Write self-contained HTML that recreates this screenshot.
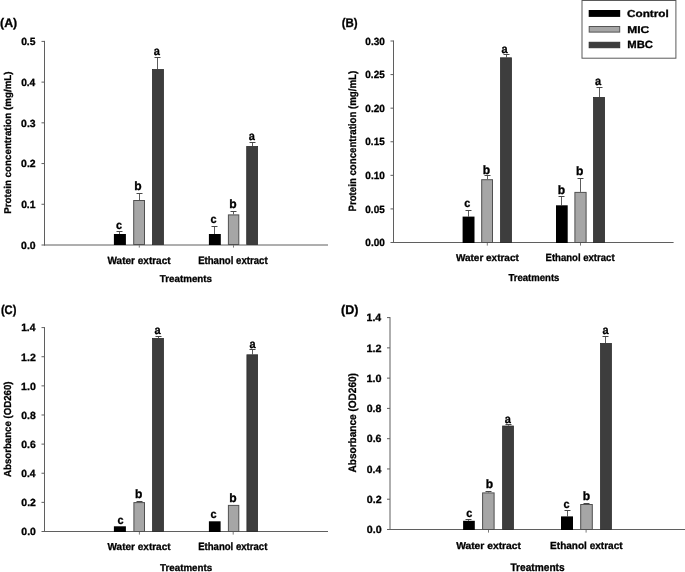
<!DOCTYPE html>
<html><head><meta charset="utf-8"><style>
html,body{margin:0;padding:0;background:#fff;}
body{width:685px;height:572px;overflow:hidden;}
svg{display:block;filter:grayscale(1);}
text{font-family:"Liberation Sans",sans-serif;font-weight:bold;stroke:#000;stroke-width:0.3px;text-rendering:geometricPrecision;}
</style></head><body>
<svg width="685" height="572" viewBox="0 0 685 572">
<rect x="0" y="0" width="685" height="572" fill="#fff"/>
<line x1="44.50" y1="40.90" x2="44.50" y2="245.50" stroke="#5f5f5f" stroke-width="1"/>
<line x1="44.00" y1="245.00" x2="328.00" y2="245.00" stroke="#5f5f5f" stroke-width="1"/>
<line x1="41.50" y1="245.00" x2="44.50" y2="245.00" stroke="#5f5f5f" stroke-width="1"/>
<text x="21.13" y="248.70" font-size="10.42" textLength="14.54" lengthAdjust="spacingAndGlyphs" fill="#000">0.0</text>
<line x1="41.50" y1="204.28" x2="44.50" y2="204.28" stroke="#5f5f5f" stroke-width="1"/>
<text x="21.14" y="207.98" font-size="10.42" textLength="14.37" lengthAdjust="spacingAndGlyphs" fill="#000">0.1</text>
<line x1="41.50" y1="163.56" x2="44.50" y2="163.56" stroke="#5f5f5f" stroke-width="1"/>
<text x="21.13" y="167.26" font-size="10.42" textLength="14.54" lengthAdjust="spacingAndGlyphs" fill="#000">0.2</text>
<line x1="41.50" y1="122.84" x2="44.50" y2="122.84" stroke="#5f5f5f" stroke-width="1"/>
<text x="21.13" y="126.54" font-size="10.42" textLength="14.48" lengthAdjust="spacingAndGlyphs" fill="#000">0.3</text>
<line x1="41.50" y1="82.12" x2="44.50" y2="82.12" stroke="#5f5f5f" stroke-width="1"/>
<text x="21.14" y="85.82" font-size="10.42" textLength="14.16" lengthAdjust="spacingAndGlyphs" fill="#000">0.4</text>
<line x1="41.50" y1="41.40" x2="44.50" y2="41.40" stroke="#5f5f5f" stroke-width="1"/>
<text x="21.14" y="45.10" font-size="10.42" textLength="14.37" lengthAdjust="spacingAndGlyphs" fill="#000">0.5</text>
<line x1="139.30" y1="245.00" x2="139.30" y2="247.60" stroke="#7a7a7a" stroke-width="1"/>
<line x1="233.50" y1="245.00" x2="233.50" y2="247.60" stroke="#7a7a7a" stroke-width="1"/>
<line x1="119.50" y1="231.50" x2="119.50" y2="234.00" stroke="#5c5c5c" stroke-width="1"/>
<line x1="116.50" y1="231.50" x2="122.50" y2="231.50" stroke="#484848" stroke-width="1"/>
<rect x="113.90" y="234.00" width="12.00" height="11.00" fill="#000000"/>
<text x="115.91" y="229.33" font-size="11.82" textLength="6.08" lengthAdjust="spacingAndGlyphs" fill="#000">c</text>
<line x1="139.50" y1="193.50" x2="139.50" y2="200.00" stroke="#5c5c5c" stroke-width="1"/>
<line x1="136.50" y1="193.50" x2="142.50" y2="193.50" stroke="#484848" stroke-width="1"/>
<rect x="133.70" y="200.50" width="10.80" height="44.00" fill="#a6a6a6" stroke="#505050" stroke-width="1"/>
<text x="134.16" y="190.43" font-size="12.11" textLength="7.38" lengthAdjust="spacingAndGlyphs" fill="#000">b</text>
<line x1="157.50" y1="57.50" x2="157.50" y2="69.10" stroke="#5c5c5c" stroke-width="1"/>
<line x1="154.50" y1="57.50" x2="160.50" y2="57.50" stroke="#484848" stroke-width="1"/>
<rect x="152.40" y="69.50" width="11.10" height="175.10" fill="#3d3d3d" stroke="#2e2e2e" stroke-width="0.8"/>
<text x="153.82" y="54.53" font-size="12.00" textLength="6.13" lengthAdjust="spacingAndGlyphs" fill="#000">a</text>
<line x1="214.50" y1="226.50" x2="214.50" y2="234.00" stroke="#5c5c5c" stroke-width="1"/>
<line x1="211.50" y1="226.50" x2="217.50" y2="226.50" stroke="#484848" stroke-width="1"/>
<rect x="208.90" y="234.00" width="11.90" height="11.00" fill="#000000"/>
<text x="210.51" y="223.23" font-size="11.82" textLength="6.08" lengthAdjust="spacingAndGlyphs" fill="#000">c</text>
<line x1="233.50" y1="211.50" x2="233.50" y2="214.40" stroke="#5c5c5c" stroke-width="1"/>
<line x1="230.50" y1="211.50" x2="236.50" y2="211.50" stroke="#484848" stroke-width="1"/>
<rect x="228.40" y="214.90" width="10.40" height="29.60" fill="#a6a6a6" stroke="#505050" stroke-width="1"/>
<text x="229.21" y="207.83" font-size="12.11" textLength="7.38" lengthAdjust="spacingAndGlyphs" fill="#000">b</text>
<line x1="252.50" y1="142.50" x2="252.50" y2="146.00" stroke="#5c5c5c" stroke-width="1"/>
<line x1="249.50" y1="142.50" x2="255.50" y2="142.50" stroke="#484848" stroke-width="1"/>
<rect x="246.70" y="146.40" width="10.90" height="98.20" fill="#3d3d3d" stroke="#2e2e2e" stroke-width="0.8"/>
<text x="248.82" y="140.33" font-size="12.00" textLength="6.13" lengthAdjust="spacingAndGlyphs" fill="#000">a</text>
<text x="0.03" y="27.04" font-size="12.41" textLength="17.22" lengthAdjust="spacingAndGlyphs" fill="#000">(A)</text>
<text transform="translate(10.95,213.79) rotate(-90)" x="0" y="0" font-size="9.86" textLength="142.39" lengthAdjust="spacingAndGlyphs" fill="#000">Protein concentration (mg/mL)</text>
<text x="107.55" y="263.75" font-size="10.43" textLength="63.04" lengthAdjust="spacingAndGlyphs" fill="#000">Water extract</text>
<text x="198.13" y="263.74" font-size="10.86" textLength="69.46" lengthAdjust="spacingAndGlyphs" fill="#000">Ethanol extract</text>
<text x="159.85" y="281.95" font-size="9.86" textLength="52.20" lengthAdjust="spacingAndGlyphs" fill="#000">Treatments</text>
<line x1="393.50" y1="40.50" x2="393.50" y2="243.00" stroke="#5f5f5f" stroke-width="1"/>
<line x1="393.00" y1="242.50" x2="673.60" y2="242.50" stroke="#5f5f5f" stroke-width="1"/>
<line x1="390.50" y1="242.50" x2="393.50" y2="242.50" stroke="#5f5f5f" stroke-width="1"/>
<text x="365.35" y="246.20" font-size="10.42" textLength="19.52" lengthAdjust="spacingAndGlyphs" fill="#000">0.00</text>
<line x1="390.50" y1="208.92" x2="393.50" y2="208.92" stroke="#5f5f5f" stroke-width="1"/>
<text x="365.35" y="212.61" font-size="10.42" textLength="19.36" lengthAdjust="spacingAndGlyphs" fill="#000">0.05</text>
<line x1="390.50" y1="175.33" x2="393.50" y2="175.33" stroke="#5f5f5f" stroke-width="1"/>
<text x="365.35" y="179.03" font-size="10.42" textLength="19.52" lengthAdjust="spacingAndGlyphs" fill="#000">0.10</text>
<line x1="390.50" y1="141.75" x2="393.50" y2="141.75" stroke="#5f5f5f" stroke-width="1"/>
<text x="365.35" y="145.45" font-size="10.42" textLength="19.36" lengthAdjust="spacingAndGlyphs" fill="#000">0.15</text>
<line x1="390.50" y1="108.17" x2="393.50" y2="108.17" stroke="#5f5f5f" stroke-width="1"/>
<text x="365.35" y="111.86" font-size="10.42" textLength="19.52" lengthAdjust="spacingAndGlyphs" fill="#000">0.20</text>
<line x1="390.50" y1="74.58" x2="393.50" y2="74.58" stroke="#5f5f5f" stroke-width="1"/>
<text x="365.35" y="78.28" font-size="10.42" textLength="19.36" lengthAdjust="spacingAndGlyphs" fill="#000">0.25</text>
<line x1="390.50" y1="41.00" x2="393.50" y2="41.00" stroke="#5f5f5f" stroke-width="1"/>
<text x="365.35" y="44.70" font-size="10.42" textLength="19.52" lengthAdjust="spacingAndGlyphs" fill="#000">0.30</text>
<line x1="487.30" y1="243.00" x2="487.30" y2="245.60" stroke="#7a7a7a" stroke-width="1"/>
<line x1="580.50" y1="243.00" x2="580.50" y2="245.60" stroke="#7a7a7a" stroke-width="1"/>
<line x1="468.50" y1="210.50" x2="468.50" y2="216.60" stroke="#5c5c5c" stroke-width="1"/>
<line x1="465.50" y1="210.50" x2="471.50" y2="210.50" stroke="#484848" stroke-width="1"/>
<rect x="462.60" y="216.60" width="11.90" height="26.40" fill="#000000"/>
<text x="464.16" y="206.73" font-size="11.82" textLength="6.08" lengthAdjust="spacingAndGlyphs" fill="#000">c</text>
<line x1="487.50" y1="175.50" x2="487.50" y2="179.20" stroke="#5c5c5c" stroke-width="1"/>
<line x1="484.50" y1="175.50" x2="490.50" y2="175.50" stroke="#484848" stroke-width="1"/>
<rect x="481.70" y="179.70" width="10.80" height="62.80" fill="#a6a6a6" stroke="#505050" stroke-width="1"/>
<text x="482.71" y="173.93" font-size="12.11" textLength="7.38" lengthAdjust="spacingAndGlyphs" fill="#000">b</text>
<line x1="506.50" y1="54.50" x2="506.50" y2="57.40" stroke="#5c5c5c" stroke-width="1"/>
<line x1="503.50" y1="54.50" x2="509.50" y2="54.50" stroke="#484848" stroke-width="1"/>
<rect x="500.50" y="57.80" width="11.00" height="184.80" fill="#3d3d3d" stroke="#2e2e2e" stroke-width="0.8"/>
<text x="501.42" y="52.53" font-size="12.00" textLength="6.13" lengthAdjust="spacingAndGlyphs" fill="#000">a</text>
<line x1="561.50" y1="196.50" x2="561.50" y2="205.30" stroke="#5c5c5c" stroke-width="1"/>
<line x1="558.50" y1="196.50" x2="564.50" y2="196.50" stroke="#484848" stroke-width="1"/>
<rect x="556.00" y="205.30" width="11.70" height="37.70" fill="#000000"/>
<text x="557.71" y="194.13" font-size="12.11" textLength="7.38" lengthAdjust="spacingAndGlyphs" fill="#000">b</text>
<line x1="580.50" y1="178.50" x2="580.50" y2="191.90" stroke="#5c5c5c" stroke-width="1"/>
<line x1="577.50" y1="178.50" x2="583.50" y2="178.50" stroke="#484848" stroke-width="1"/>
<rect x="574.90" y="192.40" width="11.20" height="50.10" fill="#a6a6a6" stroke="#505050" stroke-width="1"/>
<text x="576.06" y="175.03" font-size="12.11" textLength="7.38" lengthAdjust="spacingAndGlyphs" fill="#000">b</text>
<line x1="599.50" y1="87.50" x2="599.50" y2="97.00" stroke="#5c5c5c" stroke-width="1"/>
<line x1="596.50" y1="87.50" x2="602.50" y2="87.50" stroke="#484848" stroke-width="1"/>
<rect x="593.50" y="97.40" width="11.10" height="145.20" fill="#3d3d3d" stroke="#2e2e2e" stroke-width="0.8"/>
<text x="594.92" y="84.73" font-size="12.00" textLength="6.13" lengthAdjust="spacingAndGlyphs" fill="#000">a</text>
<text x="341.67" y="27.12" font-size="12.51" textLength="16.04" lengthAdjust="spacingAndGlyphs" fill="#000">(B)</text>
<text transform="translate(355.75,211.48) rotate(-90)" x="0" y="0" font-size="10.58" textLength="140.58" lengthAdjust="spacingAndGlyphs" fill="#000">Protein concentration (mg/mL)</text>
<text x="455.95" y="260.75" font-size="10.00" textLength="62.84" lengthAdjust="spacingAndGlyphs" fill="#000">Water extract</text>
<text x="545.53" y="260.95" font-size="10.43" textLength="69.06" lengthAdjust="spacingAndGlyphs" fill="#000">Ethanol extract</text>
<text x="508.45" y="281.15" font-size="10.14" textLength="50.98" lengthAdjust="spacingAndGlyphs" fill="#000">Treatments</text>
<line x1="44.50" y1="327.10" x2="44.50" y2="532.00" stroke="#5f5f5f" stroke-width="1"/>
<line x1="44.00" y1="531.50" x2="328.00" y2="531.50" stroke="#5f5f5f" stroke-width="1"/>
<line x1="41.50" y1="531.50" x2="44.50" y2="531.50" stroke="#5f5f5f" stroke-width="1"/>
<text x="21.33" y="535.20" font-size="10.42" textLength="14.54" lengthAdjust="spacingAndGlyphs" fill="#000">0.0</text>
<line x1="41.50" y1="502.37" x2="44.50" y2="502.37" stroke="#5f5f5f" stroke-width="1"/>
<text x="21.33" y="506.07" font-size="10.42" textLength="14.54" lengthAdjust="spacingAndGlyphs" fill="#000">0.2</text>
<line x1="41.50" y1="473.24" x2="44.50" y2="473.24" stroke="#5f5f5f" stroke-width="1"/>
<text x="21.34" y="476.94" font-size="10.42" textLength="14.16" lengthAdjust="spacingAndGlyphs" fill="#000">0.4</text>
<line x1="41.50" y1="444.11" x2="44.50" y2="444.11" stroke="#5f5f5f" stroke-width="1"/>
<text x="21.33" y="447.81" font-size="10.42" textLength="14.48" lengthAdjust="spacingAndGlyphs" fill="#000">0.6</text>
<line x1="41.50" y1="414.99" x2="44.50" y2="414.99" stroke="#5f5f5f" stroke-width="1"/>
<text x="21.33" y="418.68" font-size="10.42" textLength="14.43" lengthAdjust="spacingAndGlyphs" fill="#000">0.8</text>
<line x1="41.50" y1="385.86" x2="44.50" y2="385.86" stroke="#5f5f5f" stroke-width="1"/>
<text x="21.11" y="389.55" font-size="10.42" textLength="14.76" lengthAdjust="spacingAndGlyphs" fill="#000">1.0</text>
<line x1="41.50" y1="356.73" x2="44.50" y2="356.73" stroke="#5f5f5f" stroke-width="1"/>
<text x="21.11" y="360.53" font-size="10.57" textLength="14.76" lengthAdjust="spacingAndGlyphs" fill="#000">1.2</text>
<line x1="41.50" y1="327.60" x2="44.50" y2="327.60" stroke="#5f5f5f" stroke-width="1"/>
<text x="21.13" y="331.40" font-size="10.72" textLength="14.37" lengthAdjust="spacingAndGlyphs" fill="#000">1.4</text>
<line x1="139.40" y1="532.00" x2="139.40" y2="534.60" stroke="#7a7a7a" stroke-width="1"/>
<line x1="233.20" y1="532.00" x2="233.20" y2="534.60" stroke="#7a7a7a" stroke-width="1"/>
<rect x="113.90" y="526.30" width="12.00" height="5.70" fill="#000000"/>
<text x="117.41" y="524.13" font-size="11.82" textLength="6.08" lengthAdjust="spacingAndGlyphs" fill="#000">c</text>
<line x1="139.50" y1="501.50" x2="139.50" y2="502.10" stroke="#5c5c5c" stroke-width="1"/>
<line x1="136.50" y1="501.50" x2="142.50" y2="501.50" stroke="#484848" stroke-width="1"/>
<rect x="133.90" y="502.60" width="10.60" height="28.90" fill="#a6a6a6" stroke="#505050" stroke-width="1"/>
<text x="134.91" y="497.73" font-size="12.11" textLength="7.38" lengthAdjust="spacingAndGlyphs" fill="#000">b</text>
<line x1="158.50" y1="336.50" x2="158.50" y2="338.00" stroke="#5c5c5c" stroke-width="1"/>
<line x1="155.50" y1="336.50" x2="161.50" y2="336.50" stroke="#484848" stroke-width="1"/>
<rect x="152.50" y="338.40" width="11.00" height="193.20" fill="#3d3d3d" stroke="#2e2e2e" stroke-width="0.8"/>
<text x="154.62" y="333.63" font-size="12.00" textLength="6.13" lengthAdjust="spacingAndGlyphs" fill="#000">a</text>
<rect x="208.90" y="521.30" width="11.70" height="10.70" fill="#000000"/>
<text x="210.46" y="518.43" font-size="11.82" textLength="6.08" lengthAdjust="spacingAndGlyphs" fill="#000">c</text>
<rect x="228.40" y="505.40" width="10.40" height="26.10" fill="#a6a6a6" stroke="#505050" stroke-width="1"/>
<text x="229.21" y="501.63" font-size="12.11" textLength="7.38" lengthAdjust="spacingAndGlyphs" fill="#000">b</text>
<line x1="252.50" y1="349.50" x2="252.50" y2="354.40" stroke="#5c5c5c" stroke-width="1"/>
<line x1="249.50" y1="349.50" x2="255.50" y2="349.50" stroke="#484848" stroke-width="1"/>
<rect x="246.90" y="354.80" width="10.70" height="176.80" fill="#3d3d3d" stroke="#2e2e2e" stroke-width="0.8"/>
<text x="249.42" y="348.13" font-size="12.00" textLength="6.13" lengthAdjust="spacingAndGlyphs" fill="#000">a</text>
<text x="0.89" y="314.10" font-size="12.62" textLength="15.50" lengthAdjust="spacingAndGlyphs" fill="#000">(C)</text>
<text transform="translate(11.15,476.99) rotate(-90)" x="0" y="0" font-size="10.14" textLength="95.49" lengthAdjust="spacingAndGlyphs" fill="#000">Absorbance (OD260)</text>
<text x="107.55" y="550.15" font-size="10.14" textLength="63.04" lengthAdjust="spacingAndGlyphs" fill="#000">Water extract</text>
<text x="198.13" y="550.14" font-size="10.57" textLength="69.26" lengthAdjust="spacingAndGlyphs" fill="#000">Ethanol extract</text>
<text x="160.05" y="570.95" font-size="9.86" textLength="52.20" lengthAdjust="spacingAndGlyphs" fill="#000">Treatments</text>
<line x1="390.00" y1="317.10" x2="390.00" y2="530.00" stroke="#5f5f5f" stroke-width="1"/>
<line x1="389.50" y1="529.50" x2="685.00" y2="529.50" stroke="#5f5f5f" stroke-width="1"/>
<line x1="387.00" y1="529.50" x2="390.00" y2="529.50" stroke="#5f5f5f" stroke-width="1"/>
<text x="366.72" y="533.20" font-size="10.42" textLength="14.86" lengthAdjust="spacingAndGlyphs" fill="#000">0.0</text>
<line x1="387.00" y1="499.23" x2="390.00" y2="499.23" stroke="#5f5f5f" stroke-width="1"/>
<text x="366.72" y="502.92" font-size="10.42" textLength="14.86" lengthAdjust="spacingAndGlyphs" fill="#000">0.2</text>
<line x1="387.00" y1="468.96" x2="390.00" y2="468.96" stroke="#5f5f5f" stroke-width="1"/>
<text x="366.73" y="472.65" font-size="10.42" textLength="14.47" lengthAdjust="spacingAndGlyphs" fill="#000">0.4</text>
<line x1="387.00" y1="438.69" x2="390.00" y2="438.69" stroke="#5f5f5f" stroke-width="1"/>
<text x="366.72" y="442.38" font-size="10.42" textLength="14.80" lengthAdjust="spacingAndGlyphs" fill="#000">0.6</text>
<line x1="387.00" y1="408.41" x2="390.00" y2="408.41" stroke="#5f5f5f" stroke-width="1"/>
<text x="366.73" y="412.11" font-size="10.42" textLength="14.74" lengthAdjust="spacingAndGlyphs" fill="#000">0.8</text>
<line x1="387.00" y1="378.14" x2="390.00" y2="378.14" stroke="#5f5f5f" stroke-width="1"/>
<text x="366.50" y="381.84" font-size="10.42" textLength="15.09" lengthAdjust="spacingAndGlyphs" fill="#000">1.0</text>
<line x1="387.00" y1="347.87" x2="390.00" y2="347.87" stroke="#5f5f5f" stroke-width="1"/>
<text x="366.50" y="351.67" font-size="10.57" textLength="15.09" lengthAdjust="spacingAndGlyphs" fill="#000">1.2</text>
<line x1="387.00" y1="317.60" x2="390.00" y2="317.60" stroke="#5f5f5f" stroke-width="1"/>
<text x="366.52" y="321.40" font-size="10.72" textLength="14.69" lengthAdjust="spacingAndGlyphs" fill="#000">1.4</text>
<line x1="488.50" y1="530.00" x2="488.50" y2="532.60" stroke="#7a7a7a" stroke-width="1"/>
<line x1="586.10" y1="530.00" x2="586.10" y2="532.60" stroke="#7a7a7a" stroke-width="1"/>
<line x1="468.50" y1="519.50" x2="468.50" y2="520.80" stroke="#5c5c5c" stroke-width="1"/>
<line x1="465.50" y1="519.50" x2="471.50" y2="519.50" stroke="#484848" stroke-width="1"/>
<rect x="463.10" y="520.80" width="11.70" height="9.20" fill="#000000"/>
<text x="466.36" y="516.53" font-size="11.82" textLength="6.08" lengthAdjust="spacingAndGlyphs" fill="#000">c</text>
<line x1="488.50" y1="491.50" x2="488.50" y2="492.40" stroke="#5c5c5c" stroke-width="1"/>
<line x1="485.50" y1="491.50" x2="491.50" y2="491.50" stroke="#484848" stroke-width="1"/>
<rect x="482.60" y="492.90" width="11.50" height="36.60" fill="#a6a6a6" stroke="#505050" stroke-width="1"/>
<text x="485.76" y="488.43" font-size="12.11" textLength="7.38" lengthAdjust="spacingAndGlyphs" fill="#000">b</text>
<line x1="508.50" y1="424.50" x2="508.50" y2="425.60" stroke="#5c5c5c" stroke-width="1"/>
<line x1="505.50" y1="424.50" x2="511.50" y2="424.50" stroke="#484848" stroke-width="1"/>
<rect x="502.60" y="426.00" width="10.90" height="103.60" fill="#3d3d3d" stroke="#2e2e2e" stroke-width="0.8"/>
<text x="504.72" y="422.73" font-size="12.00" textLength="6.13" lengthAdjust="spacingAndGlyphs" fill="#000">a</text>
<line x1="567.50" y1="510.50" x2="567.50" y2="516.40" stroke="#5c5c5c" stroke-width="1"/>
<line x1="564.50" y1="510.50" x2="570.50" y2="510.50" stroke="#484848" stroke-width="1"/>
<rect x="561.00" y="516.40" width="12.00" height="13.60" fill="#000000"/>
<text x="563.51" y="507.73" font-size="11.82" textLength="6.08" lengthAdjust="spacingAndGlyphs" fill="#000">c</text>
<line x1="586.50" y1="503.50" x2="586.50" y2="504.00" stroke="#5c5c5c" stroke-width="1"/>
<line x1="583.50" y1="503.50" x2="589.50" y2="503.50" stroke="#484848" stroke-width="1"/>
<rect x="580.70" y="504.50" width="11.60" height="25.00" fill="#a6a6a6" stroke="#505050" stroke-width="1"/>
<text x="582.66" y="500.13" font-size="12.11" textLength="7.38" lengthAdjust="spacingAndGlyphs" fill="#000">b</text>
<line x1="605.50" y1="336.50" x2="605.50" y2="343.00" stroke="#5c5c5c" stroke-width="1"/>
<line x1="602.50" y1="336.50" x2="608.50" y2="336.50" stroke="#484848" stroke-width="1"/>
<rect x="600.50" y="343.40" width="10.90" height="186.20" fill="#3d3d3d" stroke="#2e2e2e" stroke-width="0.8"/>
<text x="602.42" y="333.73" font-size="12.00" textLength="6.13" lengthAdjust="spacingAndGlyphs" fill="#000">a</text>
<text x="341.12" y="314.10" font-size="12.62" textLength="17.43" lengthAdjust="spacingAndGlyphs" fill="#000">(D)</text>
<text transform="translate(356.35,472.50) rotate(-90)" x="0" y="0" font-size="10.72" textLength="99.42" lengthAdjust="spacingAndGlyphs" fill="#000">Absorbance (OD260)</text>
<text x="456.15" y="549.35" font-size="9.86" textLength="64.84" lengthAdjust="spacingAndGlyphs" fill="#000">Water extract</text>
<text x="550.10" y="549.15" font-size="10.29" textLength="72.50" lengthAdjust="spacingAndGlyphs" fill="#000">Ethanol extract</text>
<text x="510.45" y="570.74" font-size="11.00" textLength="54.21" lengthAdjust="spacingAndGlyphs" fill="#000">Treatments</text>
<rect x="582.00" y="0.50" width="93.90" height="57.70" fill="#ffffff" stroke="#5a5a5a" stroke-width="1"/>
<rect x="588.70" y="10.00" width="31.50" height="6.90" fill="#000000"/>
<rect x="589.20" y="26.50" width="30.50" height="5.60" fill="#a6a6a6" stroke="#555555" stroke-width="1"/>
<rect x="589.10" y="42.20" width="30.70" height="5.60" fill="#3d3d3d" stroke="#2a2a2a" stroke-width="0.8"/>
<text x="627.08" y="17.05" font-size="10.07" textLength="41.69" lengthAdjust="spacingAndGlyphs" fill="#000">Control</text>
<text x="627.17" y="32.75" font-size="9.86" textLength="22.02" lengthAdjust="spacingAndGlyphs" fill="#000">MIC</text>
<text x="627.22" y="48.45" font-size="10.42" textLength="25.74" lengthAdjust="spacingAndGlyphs" fill="#000">MBC</text>
</svg>
</body></html>
